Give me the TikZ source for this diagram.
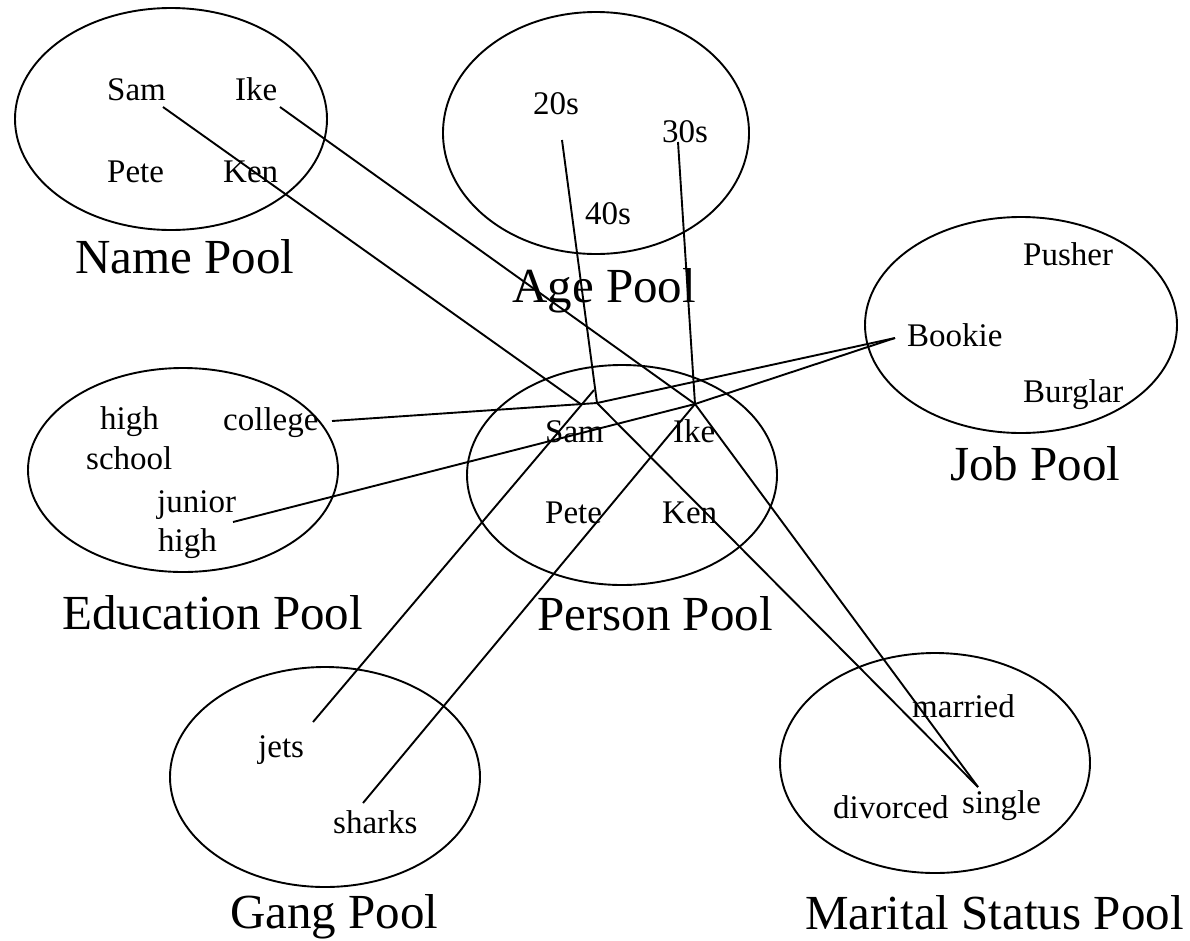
\documentclass[tikz,border=0pt]{standalone}
\usepackage{fontspec}
\setmainfont{Liberation Serif}
\usetikzlibrary{shapes.geometric}
\begin{document}
\begin{tikzpicture}[x=1pt,y=-1pt,
  pool/.style={draw, ellipse, line width=1.9pt, inner sep=0pt},
  item/.style={font=\fontsize{33}{38}\selectfont, inner sep=0pt, anchor=base west},
  title/.style={font=\fontsize{49}{56}\selectfont, inner sep=0pt, anchor=base west},
  link/.style={line width=1.9pt, line join=miter}]
\useasboundingbox (0,0) rectangle (1190,940);

% pools
\node[pool, minimum width=312pt, minimum height=222pt] (namepool)    at (171,119) {};
\node[pool, minimum width=306pt, minimum height=242pt] (agepool)     at (596,133) {};
\node[pool, minimum width=312pt, minimum height=216pt] (jobpool)     at (1021,325) {};
\node[pool, minimum width=310pt, minimum height=204pt] (edupool)     at (183,470) {};
\node[pool, minimum width=310pt, minimum height=220pt] (personpool)  at (622,475) {};
\node[pool, minimum width=310pt, minimum height=220pt] (gangpool)    at (325,777) {};
\node[pool, minimum width=310pt, minimum height=220pt] (maritalpool) at (935,763) {};

% pool titles
\node[title] (tname)    at (75,273)  {Name Pool};
\node[title] (tage)     at (512,302) {Age Pool};
\node[title] (tjob)     at (950,480) {Job Pool};
\node[title] (tedu)     at (62,629)  {Education Pool};
\node[title] (tperson)  at (537,630) {Person Pool};
\node[title] (tgang)    at (230,928) {Gang Pool};
\node[title] (tmarital) at (805,929) {Marital Status Pool};

% name pool
\node[item] (nsam)  at (107,100) {Sam};
\node[item] (nike)  at (235,100) {Ike};
\node[item] (npete) at (107,182) {Pete};
\node[item] (nken)  at (223,182) {Ken};

% age pool
\node[item] (a20) at (533,114) {20s};
\node[item] (a30) at (662,142) {30s};
\node[item] (a40) at (585,224) {40s};

% job pool
\node[item] (jpusher)  at (1023,265) {Pusher};
\node[item] (jbookie)  at (907,346)  {Bookie};
\node[item] (jburglar) at (1023,402) {Burglar};

% education pool
\node[item] (ehigh)    at (100,429) {high};
\node[item] (eschool)  at (86,469)  {school};
\node[item] (ecollege) at (223,430) {college};
\node[item] (ejunior)  at (157,512) {junior};
\node[item] (ejhigh)   at (158,551) {high};

% person pool
\node[item] (psam)  at (545,442) {Sam};
\node[item] (pike)  at (673,442) {Ike};
\node[item] (ppete) at (545,523) {Pete};
\node[item] (pken)  at (662,523) {Ken};

% gang pool
\node[item] (gjets)   at (258,757) {jets};
\node[item] (gsharks) at (333,833) {sharks};

% marital status pool
\node[item] (mmarried)  at (912,717) {married};
\node[item] (mdivorced) at (833,818) {divorced};
\node[item] (msingle)   at (962,813) {single};

% link end points
\coordinate (nsamE)    at (163,107);
\coordinate (nikeE)    at (280,107);
\coordinate (a20E)     at (562,140);
\coordinate (a30E)     at (678,142);
\coordinate (bookieE)  at (895,338);
\coordinate (collegeE) at (332,421);
\coordinate (juniorE)  at (233,522);
\coordinate (jetsE)    at (313,722);
\coordinate (sharksE)  at (363,803);
\coordinate (singleE)  at (978,787);

% junctions of the person records
\coordinate (samA) at (582,405);
\coordinate (samB) at (597,403);
\coordinate (samC) at (594,390);
\coordinate (ikeJ) at (695,404);

% Sam's links
\draw[link] (nsamE) -- (samA);
\draw[link] (a20E) -- (samB);
\draw[link] (collegeE) -- (samB) -- (bookieE);
\draw[link] (samB) -- (singleE);
\draw[link] (jetsE) -- (samC);

% Ike's links
\draw[link] (nikeE) -- (ikeJ);
\draw[link] (a30E) -- (ikeJ);
\draw[link] (juniorE) -- (ikeJ) -- (bookieE);
\draw[link] (sharksE) -- (ikeJ);
\draw[link] (ikeJ) -- (singleE);
\end{tikzpicture}
\end{document}
